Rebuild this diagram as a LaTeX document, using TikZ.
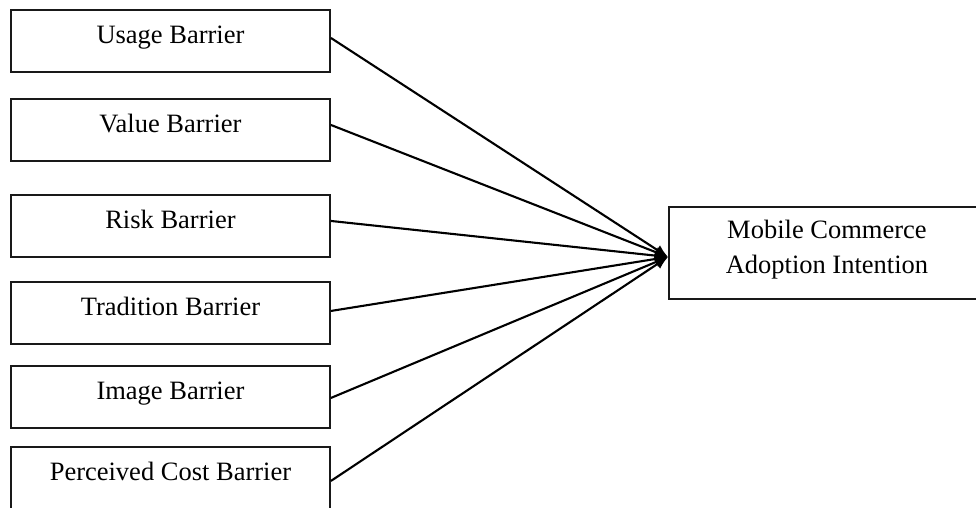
\documentclass[tikz,border=0pt]{standalone}
\usepackage{fontspec}
\setmainfont{Liberation Serif}
\usetikzlibrary{arrows.meta}
\begin{document}
\begin{tikzpicture}[x=1pt,y=-1pt,
  barrier/.style={draw=black!90, line width=1.9pt, rectangle, anchor=north west,
    minimum width=319pt, inner xsep=0pt, inner ysep=0pt,
    text height=34pt, text depth=28pt,
    font=\fontsize{26.5}{35}\selectfont},
  outcome/.style={draw=black!90, line width=1.9pt, rectangle, anchor=north west,
    minimum width=316pt, minimum height=92pt, inner xsep=0pt, inner ysep=0pt,
    align=center, font=\fontsize{26.5}{35}\selectfont},
  link/.style={line width=2.1pt, -{Latex[length=13pt,width=11pt]}}]
\useasboundingbox (0,0) rectangle (976,507);
\fill[white] (0,0) rectangle (976,507);

% antecedent barriers
\node[barrier] (u) at (10,9)   {Usage Barrier};
\node[barrier] (v) at (10,98)  {Value Barrier};
\node[barrier] (r) at (10,194) {Risk Barrier};
\node[barrier] (t) at (10,281) {Tradition Barrier};
\node[barrier] (i) at (10,365) {Image Barrier};
\node[barrier] (p) at (10,446) {Perceived Cost Barrier};

% outcome construct
\node[outcome] (m) at (668,206) {\rule{0pt}{26pt}Mobile Commerce\\Adoption Intention\rule[-20pt]{0pt}{20pt}};

\coordinate (tip) at ([yshift=-4pt]m.west);

% paths from each barrier to the outcome
\draw[link] ([yshift=3pt]u.east)  -- (tip);
\draw[link] ([yshift=5pt]v.east)  -- (tip);
\draw[link] ([yshift=5pt]r.east)  -- (tip);
\draw[link] ([yshift=2pt]t.east)  -- (tip);
\draw[link] ([yshift=-1pt]i.east) -- (tip);
\draw[link] ([yshift=-3pt]p.east) -- (tip);
\end{tikzpicture}
\end{document}
